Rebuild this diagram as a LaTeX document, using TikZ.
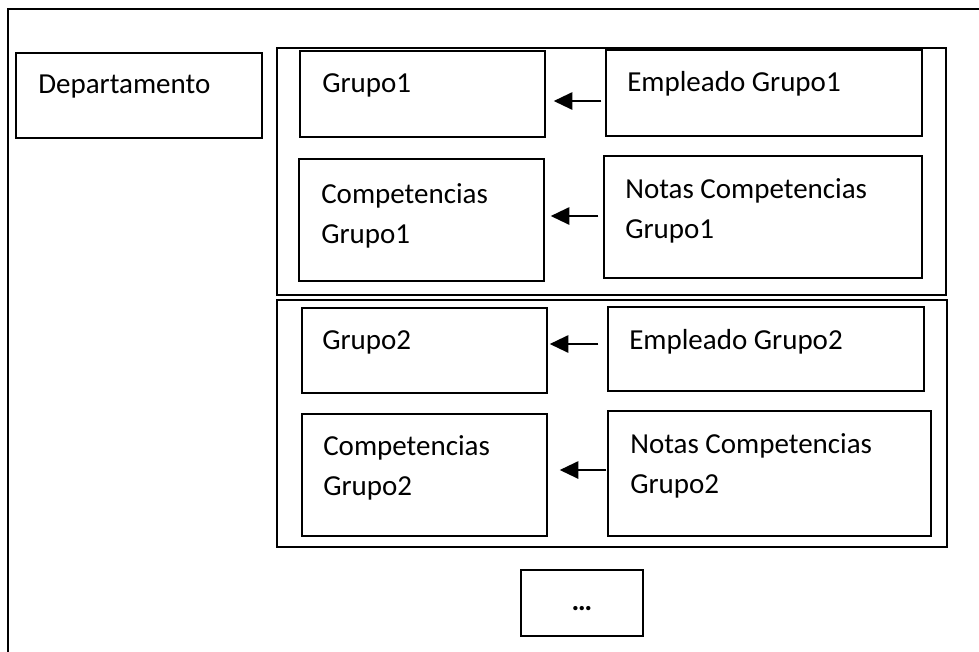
\documentclass[tikz,border=0pt]{standalone}
\usepackage{fontspec}
\setmainfont{Carlito}
\usepackage{tikz}
\usetikzlibrary{fit,arrows.meta}

\begin{document}
\begin{tikzpicture}[x=0.75pt,y=-0.75pt,
  box/.style={draw,line width=1.1pt,inner sep=0pt},
  lbl/.style={inner sep=0pt,anchor=north west,align=left,
    font=\fontsize{21.75pt}{30.5pt}\selectfont},
  arr/.style={line width=1.5pt,-{Triangle[length=14pt,width=13pt]}}]
\useasboundingbox (0,0) rectangle (979,651);

% outer frame (runs off the page on the right and bottom)
\draw[line width=1.3pt] (8,660)--(8,9)--(990,9);

\node[box,fit={(16,53)(262,138)}] (dep) {};
\node[lbl] (dept) at (38,75) {Departamento};

% first group
\node[box,fit={(277,48)(946,295)}] (grp1) {};
\node[box,fit={(300,51)(545,137)}] (g1) {};
\node[box,fit={(606,50)(922,136)}] (e1) {};
\node[box,fit={(299,159)(544,281)}] (c1) {};
\node[box,fit={(604,156)(922,278)}] (n1) {};

\node[lbl] (g1t) at (322,73) {Grupo1};
\node[lbl] (e1t) at (627,71) {Empleado Grupo1};
\node[lbl] (c1t) at (321,183) {Competencias\\Grupo1};
\node[lbl] (n1t) at (625,178) {Notas Competencias\\Grupo1};

\draw[arr] ([shift={(-4,8)}]e1.west) -- ([shift={(8,7)}]g1.east);
\draw[arr] ([shift={(-5,-1)}]n1.west) -- ([shift={(6,-4)}]c1.east);

% second group
\node[box,fit={(277,300)(947,547)}] (grp2) {};
\node[box,fit={(302,308)(547,393)}] (g2) {};
\node[box,fit={(608,307)(924,391)}] (e2) {};
\node[box,fit={(302,414)(547,536)}] (c2) {};
\node[box,fit={(608,411)(931,536)}] (n2) {};

\node[lbl] (g2t) at (322,330) {Grupo2};
\node[lbl] (e2t) at (629,329) {Empleado Grupo2};
\node[lbl] (c2t) at (323,435) {Competencias\\Grupo2};
\node[lbl] (n2t) at (630,433) {Notas Competencias\\Grupo2};

\draw[arr] ([shift={(-9,-5)}]e2.west) -- ([shift={(2,-6.5)}]g2.east);
\draw[arr] ([shift={(-1,-3.5)}]n2.west) -- ([shift={(12,-5)}]c2.east);

% more groups follow
\node[box,fit={(521,570)(643,636)}] (more) {};
\node[inner sep=0pt,font=\fontsize{21.75pt}{26pt}\bfseries] (moret) at (582,609) {…};

\end{tikzpicture}
\end{document}
